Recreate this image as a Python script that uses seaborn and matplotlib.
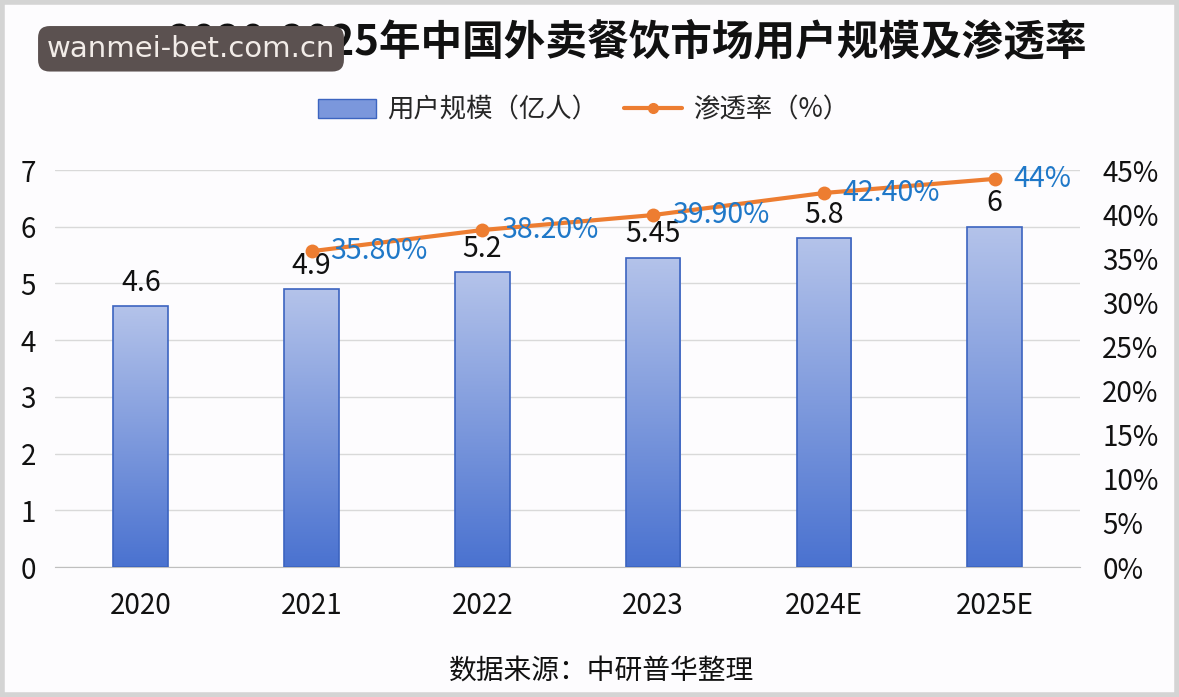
import matplotlib.pyplot as plt
import matplotlib.patches as mpatches
import matplotlib.lines as mlines
import numpy as np
import pandas as pd
import seaborn as sns

# data
years = ["2020", "2021", "2022", "2023", "2024E", "2025E"]
users = [4.6, 4.9, 5.2, 5.45, 5.8, 6]
rate_years = ["2021", "2022", "2023", "2024E", "2025E"]
rate = [35.8, 38.2, 39.9, 42.4, 44]
rate_labels = ["35.80%", "38.20%", "39.90%", "42.40%", "44%"]
left_ticks = [0, 1, 2, 3, 4, 5, 6, 7]
right_ticks = [0, 5, 10, 15, 20, 25, 30, 35, 40, 45]

sns.set_style("white")
plt.rcParams['font.family'] = ['Noto Sans CJK SC', 'DejaVu Sans']

df = pd.DataFrame({"year": years, "users": users})

fig = plt.figure(figsize=(11.79, 6.97), dpi=100, facecolor="#fdfcfe")
ax = fig.add_axes([0.047, 0.1865, 0.869, 0.5695])
ax.set_facecolor("none")

sns.barplot(data=df, x="year", y="users", ax=ax, width=0.32,
            color="#4472c4", edgecolor="#3c64c0", linewidth=1.2, zorder=3)

# vertical gradient fill inside each bar (light top, darker bottom)
grad = np.linspace(0, 1, 256).reshape(-1, 1)
cmap = sns.blend_palette(["#4a72d0", "#b4c3ea"], as_cmap=True)
for p in ax.patches:
    x0, y0 = p.get_x(), p.get_y()
    w, h = p.get_width(), p.get_height()
    im = ax.imshow(grad, cmap=cmap, aspect="auto", origin="lower",
                   extent=[x0, x0 + w, y0, y0 + h], zorder=3)
    im.set_clip_path(p)
    p.set_facecolor("none")
    p.set_zorder(4)
    ax.text(x0 + w / 2, h + 0.15, f"{h:g}", ha="center", va="bottom",
            fontsize=20.5, color="#111111", zorder=6)

ax.set_xlim(-0.5, 5.5)
ax.set_ylim(0, 7)
ax.set_yticks(left_ticks)
ax.grid(axis="y", color="#d9d9d9", linewidth=1, zorder=0)
ax.set_axisbelow(True)
for s in ["top", "right", "left"]:
    ax.spines[s].set_visible(False)
ax.spines["bottom"].set_color("#bfbfbf")
ax.set_xlabel("")
ax.set_ylabel("")
ax.tick_params(axis="y", length=0, labelsize=20, pad=14, labelcolor="#111111")
ax.tick_params(axis="x", which="major", length=0, labelsize=20, pad=17,
               labelcolor="#111111")
ax.set_xticks(np.arange(-0.5, 6, 1), minor=True)
ax.tick_params(axis="x", which="minor", length=10, color="#bfbfbf", width=1)

# secondary axis for the penetration rate
ax2 = ax.twinx()
ax2.set_ylim(0, 45)
ax2.set_yticks(right_ticks)
ax2.set_yticklabels([f"{t}%" for t in right_ticks])
ax2.tick_params(axis="y", length=0, labelsize=20, pad=16, labelcolor="#111111")
for s in ax2.spines.values():
    s.set_visible(False)
ax2.grid(False)

xpos = [years.index(y) for y in rate_years]
sns.lineplot(x=xpos, y=rate, ax=ax2, color="#ed7d31", linewidth=3,
             marker="o", markersize=10, markeredgewidth=0, zorder=5)
for xp, v, lab in zip(xpos, rate, rate_labels):
    ax2.text(xp + 0.11, v, lab, ha="left", va="center", fontsize=20.5,
             color="#1f78c8", zorder=6)

# legend above the plot
h1 = mpatches.Patch(facecolor="#7b97dc", edgecolor="#3c64c0")
h2 = mlines.Line2D([], [], color="#ed7d31", linewidth=3, marker="o",
                   markersize=7)
fig.legend([h1, h2], ["用户规模（亿人）", "渗透率（%）"], loc="center",
           bbox_to_anchor=(0.495, 0.842), ncol=2, frameon=False,
           fontsize=19, handlelength=2.2, columnspacing=1.0,
           handletextpad=0.4)

fig.text(0.532, 0.94, "2020-2025年中国外卖餐饮市场用户规模及渗透率",
         ha="center", va="center", fontsize=30, fontweight="bold",
         color="#111111")
fig.text(0.51, 0.038, "数据来源：中研普华整理", ha="center", va="center",
         fontsize=20, color="#111111")

# site stamp overlay in the top left corner
fig.text(0.162, 0.93, "wanmei-bet.com.cn", ha="center", va="center",
         fontsize=21, color="#f2ece8", family=["DejaVu Sans"],
         bbox=dict(boxstyle="round,pad=0.3,rounding_size=0.4",
                   facecolor="#5b5150", edgecolor="none"))

# light grey frame around the picture
fig.patches.append(mpatches.Rectangle((0.002, 0.003), 0.996, 0.994,
                                      transform=fig.transFigure, fill=False,
                                      edgecolor="#d4d4d4", linewidth=4))

plt.savefig("out.png", dpi=100, facecolor=fig.get_facecolor())
